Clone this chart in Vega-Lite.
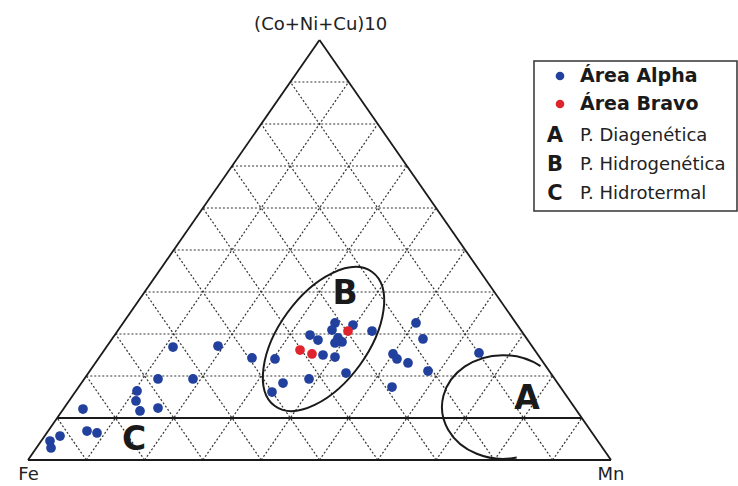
{
  "$schema": "https://vega.github.io/schema/vega-lite/v6.json",
  "width": 583,
  "height": 420,
  "autosize": {"type": "none"},
  "padding": {"left": 28, "top": 40, "right": 127, "bottom": 26},
  "background": "white",
  "config": {"view": {"stroke": null}, "font": "DejaVu Sans"},
  "datasets": {
    "grid": [
      {"x": 10, "y": 20, "x2": 90, "y2": 20},
      {"x": 15, "y": 30, "x2": 85, "y2": 30},
      {"x": 20, "y": 40, "x2": 80, "y2": 40},
      {"x": 25, "y": 50, "x2": 75, "y2": 50},
      {"x": 30, "y": 60, "x2": 70, "y2": 60},
      {"x": 35, "y": 70, "x2": 65, "y2": 70},
      {"x": 40, "y": 80, "x2": 60, "y2": 80},
      {"x": 45, "y": 90, "x2": 55, "y2": 90},
      {"x": 10, "y": 0, "x2": 55, "y2": 90},
      {"x": 20, "y": 0, "x2": 60, "y2": 80},
      {"x": 30, "y": 0, "x2": 65, "y2": 70},
      {"x": 40, "y": 0, "x2": 70, "y2": 60},
      {"x": 50, "y": 0, "x2": 75, "y2": 50},
      {"x": 60, "y": 0, "x2": 80, "y2": 40},
      {"x": 70, "y": 0, "x2": 85, "y2": 30},
      {"x": 80, "y": 0, "x2": 90, "y2": 20},
      {"x": 90, "y": 0, "x2": 95, "y2": 10},
      {"x": 10, "y": 0, "x2": 5, "y2": 10},
      {"x": 20, "y": 0, "x2": 10, "y2": 20},
      {"x": 30, "y": 0, "x2": 15, "y2": 30},
      {"x": 40, "y": 0, "x2": 20, "y2": 40},
      {"x": 50, "y": 0, "x2": 25, "y2": 50},
      {"x": 60, "y": 0, "x2": 30, "y2": 60},
      {"x": 70, "y": 0, "x2": 35, "y2": 70},
      {"x": 80, "y": 0, "x2": 40, "y2": 80},
      {"x": 90, "y": 0, "x2": 45, "y2": 90}
    ],
    "frame": [
      {"x": 0, "y": 0, "x2": 100, "y2": 0},
      {"x": 0, "y": 0, "x2": 50, "y2": 100},
      {"x": 100, "y": 0, "x2": 50, "y2": 100},
      {"x": 5, "y": 10, "x2": 95, "y2": 10}
    ],
    "samples": [
      {"x": 3.77, "y": 4.52, "area": "Área Alpha"},
      {"x": 3.95, "y": 2.86, "area": "Área Alpha"},
      {"x": 5.49, "y": 5.71, "area": "Área Alpha"},
      {"x": 10.12, "y": 6.9, "area": "Área Alpha"},
      {"x": 11.84, "y": 6.43, "area": "Área Alpha"},
      {"x": 9.43, "y": 12.14, "area": "Área Alpha"},
      {"x": 18.7, "y": 16.43, "area": "Área Alpha"},
      {"x": 18.52, "y": 14.05, "area": "Área Alpha"},
      {"x": 19.21, "y": 11.67, "area": "Área Alpha"},
      {"x": 22.3, "y": 12.38, "area": "Área Alpha"},
      {"x": 22.3, "y": 19.29, "area": "Área Alpha"},
      {"x": 28.3, "y": 19.29, "area": "Área Alpha"},
      {"x": 24.87, "y": 26.9, "area": "Área Alpha"},
      {"x": 32.59, "y": 27.14, "area": "Área Alpha"},
      {"x": 38.42, "y": 24.29, "area": "Área Alpha"},
      {"x": 42.37, "y": 24.05, "area": "Área Alpha"},
      {"x": 41.85, "y": 16.19, "area": "Área Alpha"},
      {"x": 43.74, "y": 18.33, "area": "Área Alpha"},
      {"x": 48.2, "y": 19.29, "area": "Área Alpha"},
      {"x": 54.55, "y": 20.71, "area": "Área Alpha"},
      {"x": 48.37, "y": 29.76, "area": "Área Alpha"},
      {"x": 49.74, "y": 28.57, "area": "Área Alpha"},
      {"x": 50.6, "y": 25.0, "area": "Área Alpha"},
      {"x": 52.66, "y": 24.52, "area": "Área Alpha"},
      {"x": 52.66, "y": 32.62, "area": "Área Alpha"},
      {"x": 55.75, "y": 32.14, "area": "Área Alpha"},
      {"x": 52.14, "y": 30.95, "area": "Área Alpha"},
      {"x": 53.17, "y": 29.05, "area": "Área Alpha"},
      {"x": 53.86, "y": 28.1, "area": "Área Alpha"},
      {"x": 52.66, "y": 27.86, "area": "Área Alpha"},
      {"x": 59.01, "y": 30.71, "area": "Área Alpha"},
      {"x": 62.61, "y": 25.24, "area": "Área Alpha"},
      {"x": 63.29, "y": 24.05, "area": "Área Alpha"},
      {"x": 65.18, "y": 23.1, "area": "Área Alpha"},
      {"x": 62.44, "y": 17.38, "area": "Área Alpha"},
      {"x": 66.55, "y": 32.62, "area": "Área Alpha"},
      {"x": 67.75, "y": 28.81, "area": "Área Alpha"},
      {"x": 68.61, "y": 21.19, "area": "Área Alpha"},
      {"x": 77.36, "y": 25.48, "area": "Área Alpha"},
      {"x": 46.66, "y": 26.19, "area": "Área Bravo"},
      {"x": 48.71, "y": 25.24, "area": "Área Bravo"},
      {"x": 54.89, "y": 30.71, "area": "Área Bravo"}
    ],
    "regionLetters": [
      {"x": 54.37, "y": 39.52, "letter": "B"},
      {"x": 85.59, "y": 14.52, "letter": "A"},
      {"x": 18.18, "y": 4.76, "letter": "C"}
    ],
    "vertexLabels": [
      {"x": 50.2, "y": 103.57, "label": "(Co+Ni+Cu)10"},
      {"x": 0.1, "y": -3.57, "label": "Fe"},
      {"x": 100, "y": -3.57, "label": "Mn"}
    ],
    "legendBox": [
      {"x": 86.79, "x2": 121.61, "y": 95.0, "y2": 59.29}
    ],
    "legendDots": [
      {"x": 91.25, "y": 91.43, "area": "Área Alpha"},
      {"x": 91.25, "y": 84.76, "area": "Área Bravo"}
    ],
    "legendBold": [
      {"x": 94.68, "y": 91.43, "label": "Área Alpha"},
      {"x": 94.68, "y": 84.76, "label": "Área Bravo"}
    ],
    "legendLetters": [
      {"x": 90.39, "y": 77.14, "label": "A"},
      {"x": 90.39, "y": 70.24, "label": "B"},
      {"x": 90.39, "y": 63.33, "label": "C"}
    ],
    "legendText": [
      {"x": 94.68, "y": 77.14, "label": "P. Diagenética"},
      {"x": 94.68, "y": 70.24, "label": "P. Hidrogenética"},
      {"x": 94.68, "y": 63.33, "label": "P. Hidrotermal"}
    ]
  },
  "encoding": {
    "x": {"field": "x", "type": "quantitative", "scale": {"domain": [0, 100], "nice": false, "zero": false}, "axis": null},
    "y": {"field": "y", "type": "quantitative", "scale": {"domain": [0, 100], "nice": false, "zero": false}, "axis": null}
  },
  "layer": [
    {
      "data": {"name": "grid"},
      "mark": {"type": "rule", "color": "#333333", "strokeWidth": 1.2, "strokeDash": [2, 2]},
      "encoding": {"x2": {"field": "x2"}, "y2": {"field": "y2"}}
    },
    {
      "data": {"name": "frame"},
      "mark": {"type": "rule", "color": "#1a1a1a", "strokeWidth": 1.8},
      "encoding": {"x2": {"field": "x2"}, "y2": {"field": "y2"}}
    },
    {
      "data": {"values": [{"x": 50.69, "y": 28.81}]},
      "mark": {"type": "point", "shape": "M -1 0 A 1 0.54 0 1 1 1 0 A 1 0.54 0 1 1 -1 0 Z", "size": 27423, "angle": 306, "filled": false, "color": "#1a1a1a", "strokeWidth": 2, "opacity": 1}
    },
    {
      "data": {"values": [{"x": 81.47, "y": 12.62}]},
      "mark": {"type": "point", "shape": "M 0.616 -0.67 A 1 0.85 0 1 0 0.225 0.828", "size": 14884, "filled": false, "color": "#1a1a1a", "strokeWidth": 2, "opacity": 1}
    },
    {
      "data": {"name": "samples"},
      "mark": {"type": "circle", "size": 95, "opacity": 1},
      "encoding": {
        "color": {"field": "area", "type": "nominal", "scale": {"domain": ["Área Alpha", "Área Bravo"], "range": ["#22409d", "#e0242e"]}, "legend": null}
      }
    },
    {
      "data": {"name": "regionLetters"},
      "mark": {"type": "text", "fontSize": 33, "fontWeight": "bold", "color": "#1a1a1a", "baseline": "middle", "align": "center"},
      "encoding": {"text": {"field": "letter"}}
    },
    {
      "data": {"name": "vertexLabels"},
      "mark": {"type": "text", "fontSize": 18, "color": "#222222", "baseline": "middle", "align": "center"},
      "encoding": {"text": {"field": "label"}}
    },
    {
      "data": {"name": "legendBox"},
      "mark": {"type": "rect", "fill": "white", "stroke": "#333333", "strokeWidth": 1.5},
      "encoding": {"x2": {"field": "x2"}, "y2": {"field": "y2"}}
    },
    {
      "data": {"name": "legendDots"},
      "mark": {"type": "circle", "size": 75, "opacity": 1},
      "encoding": {
        "color": {"field": "area", "type": "nominal", "legend": null}
      }
    },
    {
      "data": {"name": "legendBold"},
      "mark": {"type": "text", "fontSize": 19, "fontWeight": "bold", "color": "#1a1a1a", "baseline": "middle", "align": "left"},
      "encoding": {"text": {"field": "label"}}
    },
    {
      "data": {"name": "legendLetters"},
      "mark": {"type": "text", "fontSize": 21, "fontWeight": "bold", "color": "#1a1a1a", "baseline": "middle", "align": "center"},
      "encoding": {"text": {"field": "label"}}
    },
    {
      "data": {"name": "legendText"},
      "mark": {"type": "text", "fontSize": 18, "color": "#222222", "baseline": "middle", "align": "left"},
      "encoding": {"text": {"field": "label"}}
    }
  ]
}
